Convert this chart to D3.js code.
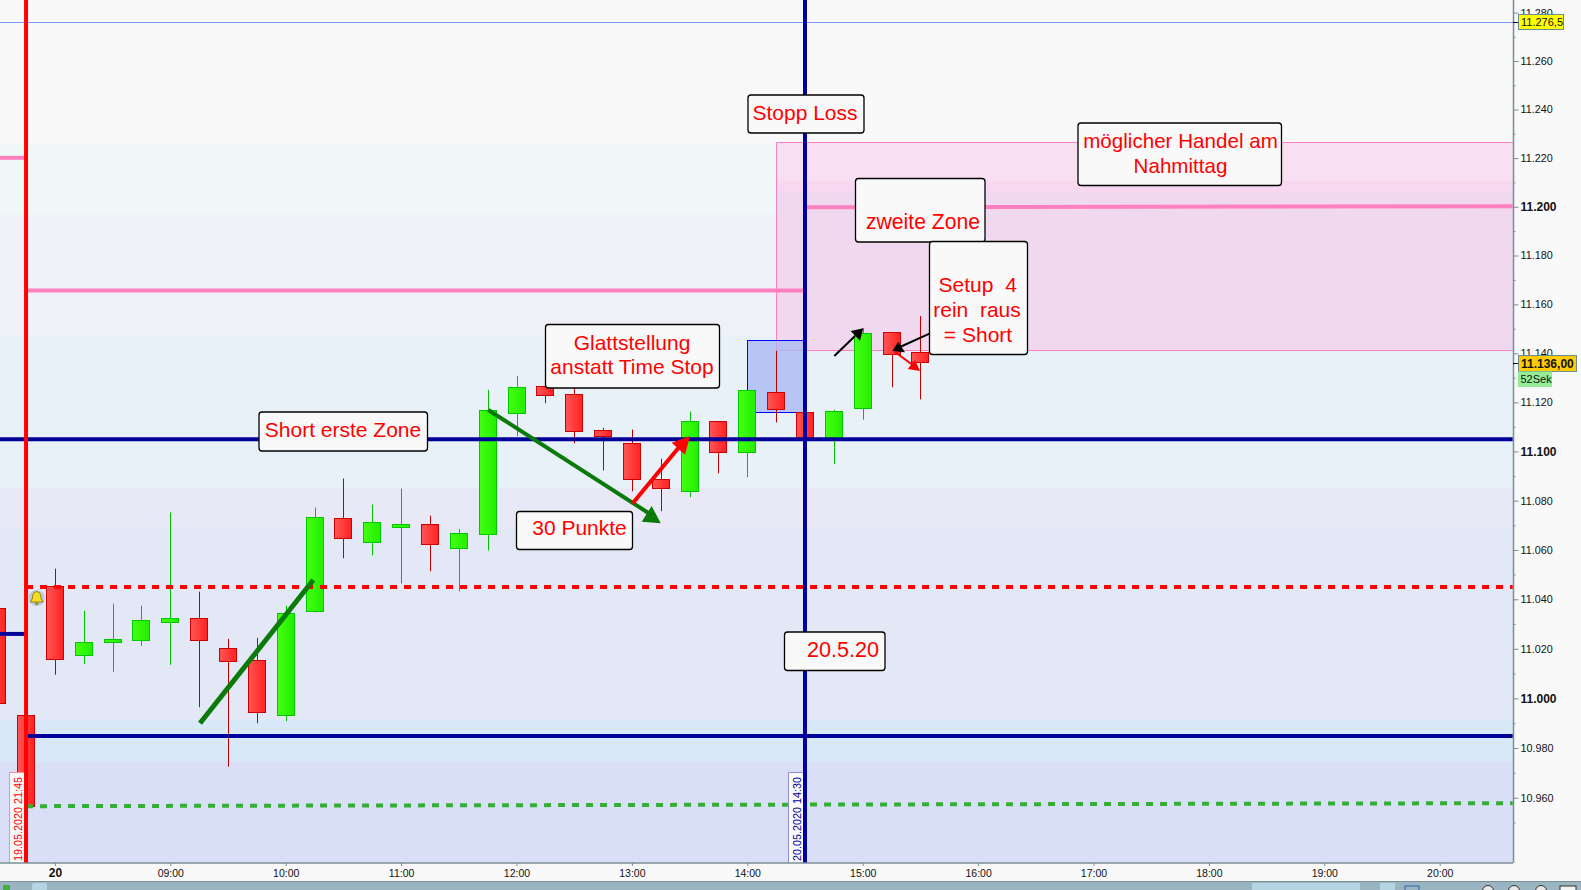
<!DOCTYPE html>
<html>
<head>
<meta charset="utf-8">
<script src="https://cdn.jsdelivr.net/npm/d3@7/dist/d3.min.js"></script>
<style>
html,body{margin:0;padding:0;background:#f9f9f9;overflow:hidden}
svg{display:block}
text{font-family:"Liberation Sans",Arial,sans-serif}
.note{fill:#ff0000;font-size:21px;text-anchor:middle;white-space:pre}
</style>
</head>
<body>
<svg id="chart" width="1581" height="890"></svg>
<script>
// ---------- data ----------
const barTimes = ["07:30","07:45","08:00","08:15","08:30","08:45","09:00","09:15","09:30","09:45","10:00","10:15","10:30","10:45","11:00","11:15","11:30","11:45","12:00","12:15","12:30","12:45","13:00","13:15","13:30","13:45","14:00","14:15","14:30","14:45","15:00","15:15","15:30"];
const opens  = [11036.4,10993.3,11045.4,11017.2,11022.5,11023.3,11030.6,11032.4,11020.2,11015.3,10992.8,11034.7,11073.0,11062.7,11069.2,11070.2,11060.2,11066.1,11115.1,11126.7,11123.4,11108.4,11103.5,11088.8,11083.4,11112.4,11099.4,11124.2,11116.1,11104.8,11117.3,11148.6,11140.5];
const highs  = [11036.4,10993.3,11052.4,11035.3,11038.2,11037.4,11075.2,11043.1,11024.0,11024.4,11037.4,11077.2,11089.0,11078.4,11084.9,11073.9,11068.5,11125.1,11130.8,11128.0,11125.9,11109.6,11108.9,11097.0,11116.2,11112.4,11125.0,11141.0,11116.1,11117.0,11150.3,11148.6,11155.2];
const lows   = [10997.8,10956.2,11009.5,11013.9,11010.7,11021.2,11013.5,10996.4,10972.5,10989.9,10990.8,11034.7,11056.6,11057.8,11046.4,11051.3,11043.2,11059.8,11106.2,11119.6,11103.3,11092.3,11083.8,11075.7,11081.4,11091.1,11089.5,11111.8,11104.8,11094.8,11112.9,11126.1,11121.2];
const closes = [10997.8,10956.2,11015.3,11022.6,11023.8,11031.6,11032.4,11023.3,11014.7,10994.0,11034.4,11073.4,11064.3,11071.0,11070.2,11061.9,11066.9,11116.9,11126.2,11122.4,11107.8,11105.7,11088.3,11084.8,11112.4,11099.4,11125.0,11116.7,11104.8,11116.5,11148.2,11139.1,11136.0];

const zoneEdges  = [11285.2,11225.8,11196.6,11147,11085.1,11068.9,10991.2,10974.3,10933.8];
const zoneColors = ["#f9f9f9","#eff8f6","#f0f0f9","#e8f0f8","#e9e8f6","#e2e8f5","#d8e8f8","#d8dff6"];
const pinkEdges  = [11226.5,11210.6,11206,11141.2];
const pinkColors = ["#f8e0f2","#f8d8f0","#f0d8ee"];

const priceMajor = [10960,10980,11000,11020,11040,11060,11080,11100,11120,11140,11160,11180,11200,11220,11240,11260,11280];
const priceMinor = [10950,10970,10990,11010,11030,11050,11070,11090,11110,11130,11150,11170,11190,11210,11230,11250,11270];
const priceBold  = [11000,11100,11200];
const hourTicks  = ["08:00","09:00","10:00","11:00","12:00","13:00","14:00","15:00","16:00","17:00","18:00","19:00","20:00"];

// level lines: [from, to, price at start, price at end]
const blueLevels  = [["07:30","20:38",11105,11105],["07:45","20:38",10984.8,10984.8],["07:30","07:45",11026,11026]];
const pinkLevels  = [["07:30","07:45",11220.1,11220.1],["07:45","14:30",11165.7,11165.7],["14:30","20:38",11199.8,11200.2]];
const redDashed   = ["07:45","20:38",11045,11045];
const greenDashed = ["07:45","20:38",10956.6,10957.8];
const pinkBoxSpan = ["14:15","20:38"];
const blueBoxSpan = ["14:00","14:30"];
const blueBoxPrices = [11145.3,11116];
const lastHigh = 11276;
const lastPrice = 11136;

// ---------- scales ----------
const W = 1581, H = 890, plotR = 1513, plotB = 863;
const mins = s => { const [h,m] = s.split(":").map(Number); return h*60+m; };
const x = d3.scaleLinear().domain([9*60, 20*60]).range([170.3, 1439.7]);
const t = s => x(mins(s));
const y = d3.scaleLog().domain([10933.8,11285.2]).range([plotB,0]);

const svg = d3.select("#chart");
const defs = svg.append("defs");
function grad(id, a, b){
  const g = defs.append("linearGradient").attr("id",id);
  g.append("stop").attr("offset","0%").attr("stop-color",a);
  g.append("stop").attr("offset","100%").attr("stop-color",b);
}
grad("gRed","#ff5555","#ff2222");
grad("gGreen","#44ff11","#22ee00");
defs.append("clipPath").attr("id","plot").append("rect").attr("width",plotR).attr("height",plotB);

svg.append("rect").attr("width",W).attr("height",H).attr("fill","#f9f9f9");
const plot = svg.append("g").attr("clip-path","url(#plot)");

// background zones
plot.selectAll(".zone").data(zoneColors).join("rect")
  .attr("x",0).attr("width",plotR)
  .attr("y",(d,i)=>Math.round(y(zoneEdges[i])))
  .attr("height",(d,i)=>Math.round(y(zoneEdges[i+1]))-Math.round(y(zoneEdges[i])))
  .attr("fill",d=>d);

// top thin line
const highY = Math.round(y(lastHigh))+.5;
plot.append("line").attr("x1",0).attr("x2",plotR).attr("y1",highY).attr("y2",highY)
  .attr("stroke","#7799ff").attr("stroke-width",1);

// pink rectangle
const pbx = Math.round(t(pinkBoxSpan[0]));
plot.selectAll(".pink").data(pinkColors).join("rect")
  .attr("x",pbx).attr("width",plotR-pbx)
  .attr("y",(d,i)=>Math.round(y(pinkEdges[i])))
  .attr("height",(d,i)=>Math.round(y(pinkEdges[i+1]))-Math.round(y(pinkEdges[i])))
  .attr("fill",d=>d);
plot.append("rect").attr("x",pbx+.5).attr("y",Math.round(y(pinkEdges[0]))+.5)
  .attr("width",plotR-pbx+5).attr("height",Math.round(y(pinkEdges[3]))-Math.round(y(pinkEdges[0])))
  .attr("fill","none").attr("stroke","#ff80c0");

// blue rectangle
plot.append("rect")
  .attr("x",Math.round(t(blueBoxSpan[0]))+.5)
  .attr("y",Math.round(y(blueBoxPrices[0]))+.5)
  .attr("width",Math.round(t(blueBoxSpan[1])-t(blueBoxSpan[0])))
  .attr("height",Math.round(y(blueBoxPrices[1])-y(blueBoxPrices[0])))
  .attr("fill","#a8b8f4").attr("fill-opacity",.78)
  .attr("stroke","#0000ff").attr("stroke-width",1);

// candles
const bars = barTimes.map((s,i)=>({s,o:opens[i],h:highs[i],l:lows[i],c:closes[i]}));
const isUp = d => d.c >= d.o;
const bodyTop = d => Math.round(y(Math.max(d.o,d.c))-.3)+.5;
const bodyBot = d => Math.max(bodyTop(d)+3, Math.round(y(Math.min(d.o,d.c)))-.5);
const cg = plot.selectAll(".candle").data(bars).join("g");
cg.append("line")
  .attr("x1",d=>Math.round(t(d.s))+.5).attr("x2",d=>Math.round(t(d.s))+.5)
  .attr("y1",d=>y(d.h)).attr("y2",d=>y(d.l))
  .attr("stroke",d=>isUp(d)?"#00c000":"#c00000").attr("stroke-width",1);
cg.append("rect")
  .attr("x",d=>Math.round(t(d.s))-8.5)
  .attr("width",17)
  .attr("y",bodyTop)
  .attr("height",d=>bodyBot(d)-bodyTop(d))
  .attr("fill",d=>isUp(d)?"url(#gGreen)":"url(#gRed)")
  .attr("stroke",d=>isUp(d)?"#00c800":"#cc0000").attr("stroke-width",1);

// levels
const seg = (sel,a,col,w,dash) => sel.append("line")
  .attr("x1",t(a[0])).attr("x2",t(a[1])).attr("y1",y(a[2])).attr("y2",y(a[3]))
  .attr("stroke",col).attr("stroke-width",w).attr("stroke-dasharray",dash||null);
pinkLevels.forEach(a=>seg(plot,a,"#ff80c0",4));
seg(plot,redDashed,"#ff0000",4,"7 7");
seg(plot,greenDashed,"#33b033",4,"7 7");
blueLevels.forEach(a=>seg(plot,a,"#000099",4));

// date flags
function dateFlag(right, border, color, label){
  plot.append("rect").attr("x",right-14.5).attr("y",772.5).attr("width",15).attr("height",95)
    .attr("fill","#f9f9f9").attr("stroke",border);
  plot.append("text").attr("transform",`translate(${right-2.5},861) rotate(-90)`)
    .attr("fill",color).attr("font-size",10.8).text(label);
}
dateFlag(t("07:45")-2, "#f09090", "#ff0000", "19.05.2020 21:45");
dateFlag(t("14:30")-2, "#9090d0", "#000099", "20.05.2020 14:30");

// verticals
plot.append("line").attr("x1",t("07:45")).attr("x2",t("07:45")).attr("y1",0).attr("y2",plotB)
  .attr("stroke","#ff0000").attr("stroke-width",4);
plot.append("line").attr("x1",t("14:30")).attr("x2",t("14:30")).attr("y1",0).attr("y2",plotB)
  .attr("stroke","#0000a0").attr("stroke-width",4);

// bell
const bell = plot.append("g").attr("transform","translate(36.7,598)");
bell.append("circle").attr("r",8).attr("fill","#bccbdc");
bell.append("path").attr("d","M-6.5 4 L6.5 4 L4.5 1 L4 -3 Q3.5 -6 0 -6.5 Q-3.5 -6 -4 -3 L-4.5 1 Z")
  .attr("fill","#f4dc20").attr("stroke","#807000").attr("stroke-width",.8);
bell.append("circle").attr("cy",5.5).attr("r",1.6).attr("fill","#a08800");

// hand-drawn arrows
function stroke(a,b,c,d,col,w){
  svg.append("line").attr("x1",a).attr("y1",b).attr("x2",c).attr("y2",d).attr("stroke",col).attr("stroke-width",w);
}
function tri(p,col){ svg.append("polygon").attr("points",p).attr("fill",col); }
stroke(200,723.3,313.3,580,"#0a7a0a",5);
stroke(488.3,410,650,514,"#0a7a0a",4); tri("660.7,523.3 651.7,506 641.7,521.7","#0a7a0a");
stroke(632.7,503.3,680,446,"#ff0000",4); tri("690,436 671.7,442.7 685,454.7","#ff0000");

// callouts: box x, y, width, height, then text lines [label, centre x, baseline, optional size]
const noteBoxes = [
  [259,412,168.5,39,[["Short erste Zone",343,437]]],
  [748,95,116,38,[["Stopp Loss",805,120]]],
  [1078,123,203.5,62.5,[["möglicher Handel am",1180.5,148,20.6],["Nahmittag",1180.5,173,20.6]]],
  [855.5,178.5,129.5,63.5,[["zweite Zone",923,229,21.2]]],
  [545.5,324.5,174,63.5,[["Glattstellung",632,350],["anstatt Time Stop",632,374]]],
  [516.5,511.5,116,38,[["30 Punkte",579.5,535]]],
  [784.5,632,100.5,38.5,[["20.5.20",843,657,21.6]]],
  [929.5,241.5,98,113,[["Setup  4",977.7,291.7],["rein  raus",977,316.7],["= Short",978,341.7]]]
];
noteBoxes.forEach(b=>{
  svg.append("rect").attr("x",b[0]).attr("y",b[1]).attr("width",b[2]).attr("height",b[3]).attr("rx",3)
    .attr("fill","#f9f9f9").attr("stroke","#000").attr("stroke-width",1.3);
  b[4].forEach(l=>{
    const n = svg.append("text").attr("class","note").attr("x",l[1]).attr("y",l[2]).text(l[0]);
    if (l[3]) n.style("font-size",l[3]+"px");
  });
});

// small arrows on top of boxes
stroke(834.3,356,855,336,"#000",2); tri("863.3,328.3 850.7,331 860,340.7","#000");
stroke(930,333.3,900,347,"#000",2); tri("892.3,351 898.3,341.7 905,352.3","#000");
stroke(895,352,914,366,"#ff0000",2); tri("920,371 915,360 907.7,369","#ff0000");

// axes
const axisCol = "#7a8f96";
const fmt = d3.format(",");
const dot = v => fmt(v).replace(",",".");
const ya = svg.append("g").attr("transform",`translate(${plotR+.5},0)`)
  .call(d3.axisRight(y).tickValues(priceMajor).tickFormat(dot).tickSize(5).tickPadding(2));
ya.select(".domain").attr("stroke",axisCol).attr("stroke-width",1.5).attr("d",`M0,0V${plotB}`);
ya.selectAll(".tick line").attr("stroke",axisCol);
ya.selectAll("text").attr("font-family",'"Liberation Sans",Arial,sans-serif').attr("fill","#111")
  .attr("font-weight",d=>priceBold.includes(d)?"bold":"normal")
  .style("font-size",d=>priceBold.includes(d)?"12px":"10.8px");
const ym = svg.append("g").attr("transform",`translate(${plotR+.5},0)`)
  .call(d3.axisRight(y).tickValues(priceMinor).tickFormat("").tickSize(2));
ym.select(".domain").remove();
ym.selectAll(".tick line").attr("stroke",axisCol);

const xa = svg.append("g").attr("transform",`translate(0,${plotB})`)
  .call(d3.axisBottom(x).tickValues(hourTicks.map(mins)).tickSize(3).tickPadding(4)
    .tickFormat(m => m===480 ? "20" : d3.format("02")(m/60)+":00"));
xa.select(".domain").attr("stroke",axisCol).attr("stroke-width",1.5).attr("d",`M0,0H${plotR}`);
xa.selectAll(".tick line").attr("stroke",axisCol);
xa.selectAll("text").attr("font-family",'"Liberation Sans",Arial,sans-serif').attr("fill","#111")
  .attr("font-weight",m=>m===480?"bold":"normal")
  .attr("dy",m=>m===480?"0.6em":"0.71em")
  .style("font-size",m=>m===480?"12px":"10.5px");

// price flags, anchored on their prices
function flag(x0,x1,yc,above,below,fill,bold,label,edge){
  const y0 = yc-above, y1 = yc+below;
  svg.append("rect").attr("x",x0).attr("y",y0).attr("width",x1-x0).attr("height",y1-y0)
    .attr("fill",fill).attr("stroke",edge||"none");
  svg.append("text").attr("x",x0+2.5).attr("y",(y0+y1)/2+4).attr("fill","#111")
    .attr("font-size",bold?12:11).attr("font-weight",bold?"bold":"normal").text(label);
}
const lastY = Math.round(y(lastPrice))+.5;
svg.append("line").attr("x1",plotR).attr("x2",1519).attr("y1",highY).attr("y2",highY).attr("stroke","#000");
svg.append("line").attr("x1",plotR).attr("x2",1519).attr("y1",lastY).attr("y2",lastY).attr("stroke","#000");
flag(1518.5,1563.5,highY,8,7,"#ffff00",false,"11.276,5","#6a8a94");
flag(1518.5,1576.5,lastY,8,8,"#ffcc00",true,"11.136,00","#6a8a94");
flag(1518,1552,lastY,-8,23.5,"#94ec94",false,"52Sek");

// bottom toolbar
svg.append("rect").attr("x",0).attr("y",881.5).attr("width",W).attr("height",9).attr("fill","#9ab4c2");
svg.append("line").attr("x1",0).attr("x2",W).attr("y1",881.5).attr("y2",881.5).attr("stroke","#7a8f96");
svg.append("rect").attr("x",32).attr("y",883).attr("width",15).attr("height",8).attr("rx",2).attr("fill","#b4d4e2");
svg.append("rect").attr("x",1252).attr("y",883).attr("width",108).attr("height",8).attr("fill","#b4d4e2");
svg.append("rect").attr("x",1380).attr("y",883).attr("width",15).attr("height",8).attr("fill","#b4d4e2");
svg.append("rect").attr("x",3).attr("y",885).attr("width",7).attr("height",6).attr("fill","#40b040");
[[1488,"#e8e8e8"],[1514,"#e8e8e8"],[1541,"#e8e8e8"]].forEach(c=>
  svg.append("circle").attr("cx",c[0]).attr("cy",891).attr("r",5.5).attr("fill",c[1]).attr("stroke","#333"));
svg.append("rect").attr("x",1560).attr("y",886).attr("width",16).attr("height",5).attr("fill","#f4f4f4").attr("stroke","#333");
svg.append("rect").attr("x",1405).attr("y",886).attr("width",14).attr("height",5).attr("fill","none").attr("stroke","#2a6ab0");
</script>
</body>
</html>
